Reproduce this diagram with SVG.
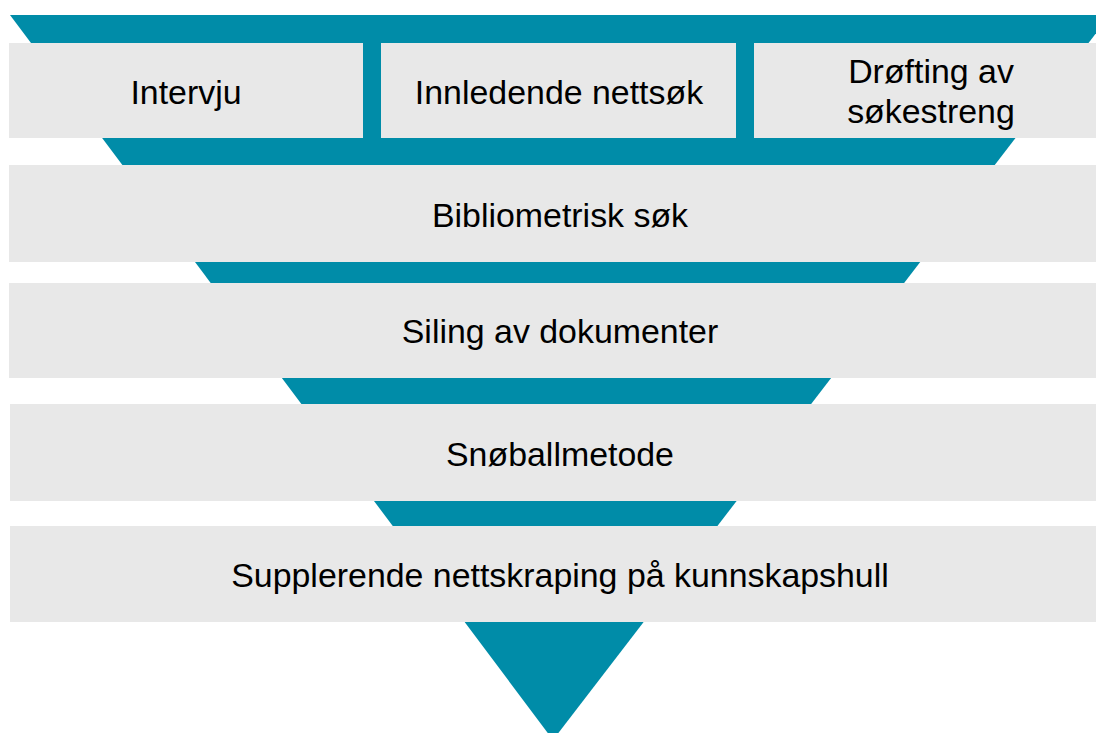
<svg xmlns="http://www.w3.org/2000/svg" width="1096" height="733" viewBox="0 0 1096 733">
  <style>
    .bar { fill: #E8E8E8; }
    .funnel { fill: #008CA8; }
    .lbl { font-family: "Liberation Sans", Arial, sans-serif; font-size: 33.9px; fill: #000000; text-anchor: middle; }
  </style>
  <rect width="1096" height="733" fill="#FFFFFF"/>
  <g id="funnel">
    <polygon class="funnel" points="10,15 1110,15 553,740"/>
  </g>
  <g id="node-intervju">
    <rect class="bar" x="9" y="43" width="354" height="95"/>
    <text class="lbl" x="186" y="103.5">Intervju</text>
  </g>
  <g id="node-innledende">
    <rect class="bar" x="381" y="43" width="355" height="95"/>
    <text class="lbl" x="559" y="103.5">Innledende nettsøk</text>
  </g>
  <g id="node-drofting">
    <rect class="bar" x="754" y="43" width="342" height="95"/>
    <text class="lbl" x="931" y="83">Drøfting av</text>
    <text class="lbl" x="931" y="123">søkestreng</text>
  </g>
  <g id="node-bibliometrisk">
    <rect class="bar" x="9" y="165" width="1087" height="97"/>
    <text class="lbl" x="560" y="226.5">Bibliometrisk søk</text>
  </g>
  <g id="node-siling">
    <rect class="bar" x="9" y="283" width="1087" height="95"/>
    <text class="lbl" x="560" y="343">Siling av dokumenter</text>
  </g>
  <g id="node-snoball">
    <rect class="bar" x="10" y="404" width="1086" height="97"/>
    <text class="lbl" x="560" y="465.5">Snøballmetode</text>
  </g>
  <g id="node-supplerende">
    <rect class="bar" x="10" y="526" width="1086" height="96"/>
    <text class="lbl" x="560" y="587">Supplerende nettskraping på kunnskapshull</text>
  </g>
  <g id="connectors"></g>
</svg>
